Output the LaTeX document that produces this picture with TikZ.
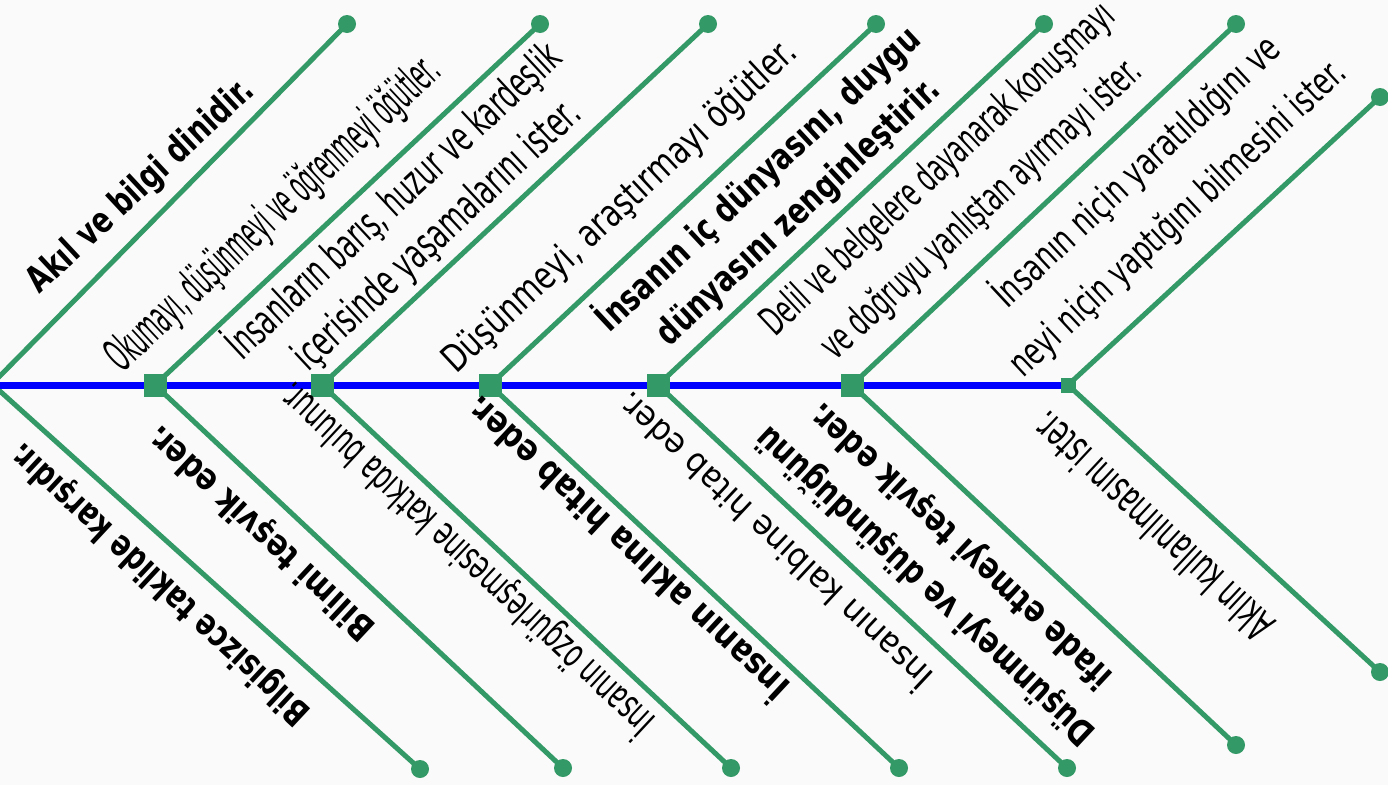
\documentclass[tikz,border=0pt]{standalone}
\usepackage{fontspec}
\setmainfont{DejaVu Sans}
\usepackage{graphicx}
\definecolor{fgreen}{RGB}{51,153,102}
\definecolor{fblue}{RGB}{0,0,255}
\definecolor{bgc}{RGB}{250,250,250}
\newcommand\fitto[3]{\resizebox{#1pt}{\height}{\fontsize{#2}{#2}\selectfont #3}}
\begin{document}
\begin{tikzpicture}[x=1pt,y=-1pt,
  bone/.style={draw=fgreen, line width=5pt},
  spine/.style={draw=fblue, line width=7pt},
  sqbox/.style={fill=fgreen, minimum size=23pt, inner sep=0pt, outer sep=0pt},
  smallsq/.style={fill=fgreen, minimum size=15pt, inner sep=0pt, outer sep=0pt},
  enddot/.style={circle, fill=fgreen, minimum size=18pt, inner sep=0pt, outer sep=0pt},
  uplab/.style={rotate=43, anchor=base, inner sep=0pt},
  dnlab/.style={rotate=137, anchor=center, inner sep=0pt}]
\fill[bgc] (0,0) rectangle (1388,785);
\useasboundingbox (0,0) rectangle (1388,785);
\clip (0,0) rectangle (1388,785);
% spine points
\coordinate (s0) at (-8,384);
\coordinate (p1) at (155,385);
\coordinate (p2) at (322,385);
\coordinate (p3) at (490,385);
\coordinate (p4) at (658,385);
\coordinate (p5) at (852,385);
\coordinate (p6) at (1068,385);
\coordinate (sl) at (0,385);
% end dots
\node[enddot] (u1) at (347,24) {};
\node[enddot] (u2) at (540,24) {};
\node[enddot] (u3) at (708,24) {};
\node[enddot] (u4) at (876,24) {};
\node[enddot] (u5) at (1044,24) {};
\node[enddot] (u6) at (1236,24) {};
\node[enddot] (u7) at (1380,97) {};
\node[enddot] (l1) at (420,769) {};
\node[enddot] (l2) at (563,768) {};
\node[enddot] (l3) at (731,768) {};
\node[enddot] (l4) at (899,768) {};
\node[enddot] (l5) at (1067,768) {};
\node[enddot] (l6) at (1236,745) {};
\node[enddot] (l7) at (1380,672) {};
% bones
\draw[bone] (s0) -- (u1.center);
\draw[bone] (s0) -- (l1.center);
\foreach \i in {1,...,6}{
  \draw[bone] (p\i) -- (u\the\numexpr\i+1\relax.center);
  \draw[bone] (p\i) -- (l\the\numexpr\i+1\relax.center);
}
% spine
\draw[spine] (sl) -- (p6);
% squares
\node[sqbox] (q1) at (p1) {};
\node[sqbox] (q2) at (p2) {};
\node[sqbox] (q3) at (p3) {};
\node[sqbox] (q4) at (p4) {};
\node[sqbox] (q5) at (p5) {};
\node[smallsq] (q6) at (p6) {};
% upper labels
\node[uplab] (t1) at (148,194) {\fitto{296}{36}{\bfseries Akıl ve bilgi dinidir.}};
\node[uplab] (t2) at (283,224) {\fitto{438}{46}{Okumayı, düşünmeyi ve öğrenmeyi öğütler.}};
\node[uplab] (t3a) at (403,211) {\fitto{440}{42}{İnsanların barış, huzur ve kardeşlik}};
\node[uplab] (t3b) at (446,245) {\fitto{375}{42}{içerisinde yaşamalarını ister.}};
\node[uplab] (t4) at (628,215) {\fitto{469}{38}{Düşünmeyi, araştırmayı öğütler.}};
\node[uplab] (t5a) at (766,188) {\fitto{428}{36}{\bfseries İnsanın iç dünyasını, duygu}};
\node[uplab] (t5b) at (806,220) {\fitto{373}{36}{\bfseries dünyasını zenginleştirir.}};
\node[uplab] (t6a) at (946,178) {\fitto{467}{40}{Delil ve belgelere dayanarak konuşmayı}};
\node[uplab] (t6b) at (990,218) {\fitto{422}{40}{ve doğruyu yanlıştan ayırmayı ister.}};
\node[uplab] (t7a) at (1145,181) {\fitto{377}{38}{İnsanın niçin yaratıldığını ve}};
\node[uplab] (t7b) at (1186,227) {\fitto{444}{38}{neyi niçin yaptığını bilmesini ister.}};
% lower labels
\node[dnlab] (b1) at (161,583) {\fitto{395}{36}{\bfseries Bilgisizce taklide karşıdır.}};
\node[dnlab] (b2) at (262,532) {\fitto{296}{36}{\bfseries Bilimi teşvik eder.}};
\node[dnlab] (b3) at (466,560) {\fitto{496}{40}{İnsanın özgürleşmesine katkıda bulunur.}};
\node[dnlab] (b4) at (625,551) {\fitto{426}{36}{\bfseries İnsanın aklına hitab eder.}};
\node[dnlab] (b5) at (773,543) {\fitto{417}{34}{İnsanın kalbine hitab eder.}};
\node[dnlab] (b6a) at (926,585) {\fitto{449}{36}{\bfseries Düşünmeyi ve düşündüğünü}};
\node[dnlab] (b6b) at (962,545) {\fitto{400}{36}{\bfseries ifade etmeyi teşvik eder.}};
\node[dnlab] (b7) at (1152,527) {\fitto{312}{44}{Aklın kullanılmasını ister.}};
\end{tikzpicture}
\end{document}
